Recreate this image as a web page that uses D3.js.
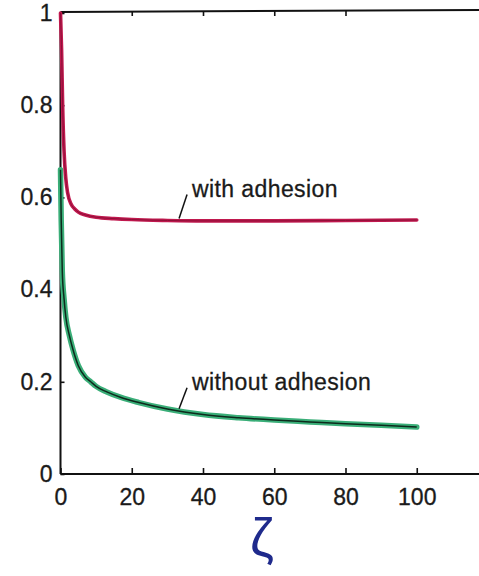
<!DOCTYPE html>
<html>
<head>
<meta charset="utf-8">
<script src="https://cdn.jsdelivr.net/npm/d3@7"></script>
<style>
  html, body { margin: 0; padding: 0; background: #fff; }
  svg { display: block; }
  text { font-family: "Liberation Sans", Arial, sans-serif; fill: #1a1a1a; }
</style>
</head>
<body>
<svg id="chart" width="479" height="576"></svg>
<script>
// Relative value vs. ζ, with and without adhesion
const withX    = [0, 0.3, 0.6, 1, 1.5, 2, 3, 4, 5, 7, 10, 15, 20, 30, 40, 60, 80, 100];
const withY    = [1.0, 0.92, 0.8, 0.7, 0.64, 0.61, 0.585, 0.575, 0.568, 0.562, 0.557, 0.554, 0.552, 0.55, 0.549, 0.549, 0.55, 0.551];
const withoutX = [0, 0.2, 0.5, 1, 1.5, 2.5, 3.5, 5, 7, 8.5, 10, 13, 17, 22, 30, 40, 50, 60, 70, 80, 90, 100];
const withoutY = [0.66, 0.55, 0.44, 0.38, 0.34, 0.30, 0.27, 0.235, 0.21, 0.2, 0.19, 0.178, 0.166, 0.155, 0.141, 0.129, 0.122, 0.117, 0.113, 0.109, 0.106, 0.102];

const xTicks = [0, 20, 40, 60, 80, 100];
const yTicks = [0, 0.2, 0.4, 0.6, 0.8, 1];
const yTickLabels = ["0", "0.2", "0.4", "0.6", "0.8", "1"];
const labels = [
  { text: "with adhesion",    at: 33, dy: -24 },
  { text: "without adhesion", at: 33, dy: -21 }
];
const axisName = "ζ";

const svg = d3.select("#chart");
const x = d3.scaleLinear().domain([0, 120]).range([60.5, 488]);
const y = d3.scaleLinear().domain([0, 1]).range([474, 13]);

const line = d3.line().x(d => x(d[0])).y(d => y(d[1])).curve(d3.curveMonotoneX);
const withPts = withX.map((v, i) => [v, withY[i]]);
const withoutPts = withoutX.map((v, i) => [v, withoutY[i]]);

// frame: left, bottom and top edges
const frame = svg.append("g").attr("stroke", "#111").attr("stroke-width", 2).attr("fill", "none");
frame.append("line").attr("x1", x(0)).attr("x2", x(0)).attr("y1", y(1)).attr("y2", y(0));
frame.append("line").attr("x1", x(0)).attr("x2", 479).attr("y1", y(0)).attr("y2", y(0));
frame.append("line").attr("x1", x(0)).attr("x2", 479).attr("y1", y(1) - 1).attr("y2", y(1) - 3);

// bottom axis: inward ticks + labels
const xAxis = d3.axisBottom(x).tickValues(xTicks).tickSize(-6).tickPadding(15).tickFormat(d3.format("d"));
const gx = svg.append("g").attr("transform", `translate(0,${y(0)})`).call(xAxis);
gx.select(".domain").remove();
gx.selectAll(".tick line").attr("stroke", "#111").attr("stroke-width", 1.6);
gx.selectAll(".tick text").attr("font-size", 23).attr("fill", "#1a1a1a").attr("dy", "0.71em")
  .attr("stroke", "#1a1a1a").attr("stroke-width", 0.3);

// top edge ticks pointing down
const xTop = d3.axisTop(x).tickValues(xTicks.slice(1, 5)).tickSize(-5).tickFormat("");
const gt = svg.append("g").attr("transform", `translate(0,${y(1) - 2})`).call(xTop);
gt.select(".domain").remove();
gt.selectAll(".tick line").attr("stroke", "#111").attr("stroke-width", 1.6);

// left axis
const yAxis = d3.axisLeft(y).tickValues(yTicks).tickSize(-4).tickPadding(8)
  .tickFormat((d, i) => yTickLabels[i]);
const gy = svg.append("g").attr("transform", `translate(${x(0)},0)`).call(yAxis);
gy.select(".domain").remove();
gy.selectAll(".tick line").attr("stroke", "#111").attr("stroke-width", 1.6);
gy.selectAll(".tick text").attr("font-size", 23).attr("fill", "#1a1a1a")
  .attr("stroke", "#1a1a1a").attr("stroke-width", 0.3);

// curves
svg.append("path").datum(withoutPts).attr("d", line)
  .attr("fill", "none").attr("stroke", "#3aae78").attr("stroke-width", 5.5).attr("stroke-linecap", "round");
svg.append("path").datum(withoutPts).attr("d", line)
  .attr("fill", "none").attr("stroke", "#0d2a1c").attr("stroke-width", 1.5);
svg.append("path").datum(withPts).attr("d", line)
  .attr("fill", "none").attr("stroke", "#c0184e").attr("stroke-width", 3.6).attr("stroke-linecap", "round");
svg.append("path").datum(withPts).attr("d", line)
  .attr("fill", "none").attr("stroke", "#8e1038").attr("stroke-width", 1);

// annotations with leader lines
const seriesFor = [withPts, withoutPts];
labels.forEach((lab, i) => {
  const pts = seriesFor[i];
  const interp = d3.scaleLinear().domain(pts.map(p => p[0])).range(pts.map(p => p[1]));
  const px = x(lab.at), py = y(interp(lab.at)) - 2;
  svg.append("line").attr("x1", px + 1).attr("y1", py).attr("x2", px + 9).attr("y2", py + lab.dy)
    .attr("stroke", "#111").attr("stroke-width", 1.5);
  svg.append("text").attr("x", px + 14).attr("y", py + lab.dy + 2)
    .attr("font-size", 23).attr("letter-spacing", 0.4)
    .attr("stroke", "#1a1a1a").attr("stroke-width", 0.3).text(lab.text);
});

// axis name
svg.append("text").attr("x", 262).attr("y", 556).attr("text-anchor", "middle")
  .attr("font-family", "DejaVu Serif")
  .attr("font-size", 54).style("fill", "#1f2a8c").text(axisName);
</script>
</body>
</html>
